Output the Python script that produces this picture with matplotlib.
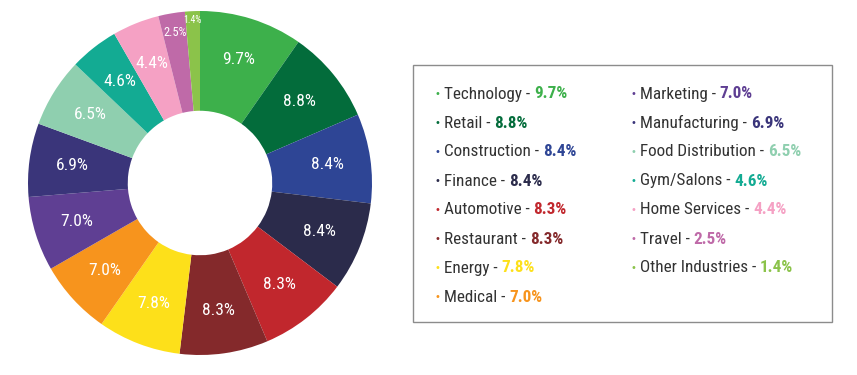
"""Industry share donut chart with a two-column legend box."""

import matplotlib
matplotlib.use("Agg")
import matplotlib.pyplot as plt
import numpy as np
from matplotlib.patches import Rectangle

plt.rcParams["font.family"] = ["Roboto Condensed", "Liberation Sans Narrow",
                               "Liberation Sans", "DejaVu Sans"]

industries = ["Technology", "Retail", "Construction", "Finance", "Automotive",
              "Restaurant", "Energy", "Medical", "Marketing", "Manufacturing",
              "Food Distribution", "Gym/Salons", "Home Services", "Travel",
              "Other Industries"]
shares = [9.7, 8.8, 8.4, 8.4, 8.3, 8.3, 7.8, 7.0, 7.0, 6.9, 6.5, 4.6, 4.4, 2.5, 1.4]
colors = ["#3db04b", "#036c3b", "#2e4595", "#2b2b4b", "#c1272d", "#84292b",
          "#fde01a", "#f7941d", "#5f3f93", "#3a357a", "#8fcfaf", "#13ab93",
          "#f5a1c4", "#bf6aa8", "#8bc34a"]

W, H = 857, 375
fig = plt.figure(figsize=(W / 100, H / 100), dpi=100)

# donut
ax = fig.add_axes([28 / W, 20 / H, 344 / W, 344 / H])
wedges, _ = ax.pie(shares, colors=colors, startangle=90, counterclock=False,
                   radius=1.0, wedgeprops=dict(width=0.58, linewidth=0))
ax.set_xlim(-1, 1)
ax.set_ylim(-1, 1)

for w, v in zip(wedges, shares):
    ang = np.deg2rad((w.theta1 + w.theta2) / 2)
    if v < 2:
        r, fs = 0.95, 7
    elif v < 3:
        r, fs = 0.89, 9
    else:
        r, fs = 0.75, 12.5
    ax.text(r * np.cos(ang), r * np.sin(ang), f"{v:.1f}%", color="white",
            fontsize=fs, ha="center", va="center")

# legend box, drawn in pixel coordinates
lax = fig.add_axes([0, 0, 1, 1])
lax.set_xlim(0, W)
lax.set_ylim(H, 0)
lax.axis("off")
lax.add_patch(Rectangle((413, 65), 419, 257, fill=False,
                        edgecolor="#8c8c8c", linewidth=1.0))

n_first = 8
for i, (name, v, c) in enumerate(zip(industries, shares, colors)):
    col, row = (0, i) if i < n_first else (1, i - n_first)
    x0 = 437 if col == 0 else 633
    y = 94 + row * 29
    lax.text(x0, y, "•", color=c, fontsize=7, ha="center", va="center",
             family=["DejaVu Sans"])
    t1 = lax.text(x0 + 7, y, f"{name} - ", color="#333333", fontsize=12.3,
                  ha="left", va="center")
    lax.annotate(f"{v:.1f}%", xy=(1, 0), xycoords=t1, color=c,
                 fontsize=12.3, fontweight="bold", ha="left", va="bottom")

fig.savefig("out.png", dpi=100)
